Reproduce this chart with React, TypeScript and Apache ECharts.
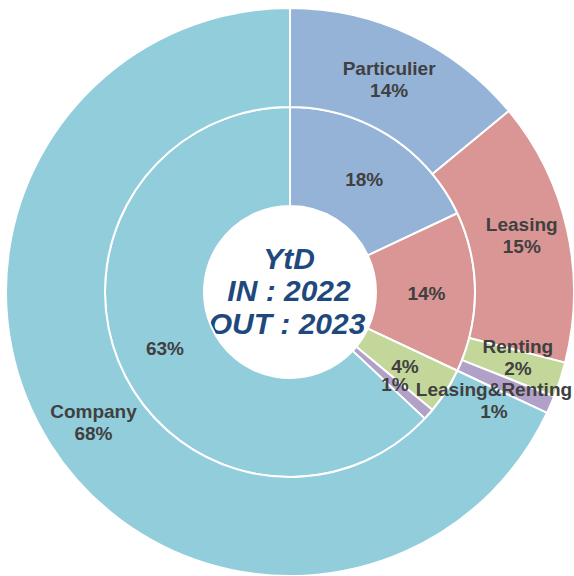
import React, { useEffect, useRef } from "react";
import * as echarts from "echarts";

const categories = ["Particulier", "Leasing", "Renting", "Leasing&Renting", "Company"];
const outValues2023 = [14, 15, 2, 1, 68];
const inValues2022 = [18, 14, 4, 1, 63];
const colors = ["#95B3D7", "#DA9694", "#C4D79B", "#B1A0C7", "#92CDDC"];
const centerLines = ["YtD", "IN : 2022", "OUT : 2023"];

export default function App() {
  const ref = useRef<HTMLDivElement>(null);
  useEffect(() => {
    if (!ref.current) return;
    const chart = echarts.init(ref.current, null, { renderer: "svg" });
    const labelFont = {
      fontFamily: "Liberation Sans, Arial, sans-serif",
      fontWeight: "bold" as const,
      fontSize: 19,
      color: "#404040",
      lineHeight: 22,
    };
    const outerOffsets: Record<number, number[]> = { 0: [-2, 2], 1: [0, -5], 2: [2, -8], 3: [-14, 14], 4: [4, 3] };
    const innerOffsets: Record<number, number[]> = { 0: [0, 4], 1: [-2, 1], 2: [-2, 0], 3: [1, 1], 4: [2, 1] };
    chart.setOption({
      animation: false,
      color: colors,
      series: [
        {
          name: "IN 2022",
          type: "pie",
          center: [290, 292],
          radius: [86, 185],
          startAngle: 90,
          clockwise: true,
          avoidLabelOverlap: false,
          labelLayout: { hideOverlap: false },
          itemStyle: { borderColor: "#fff", borderWidth: 2 },
          label: { show: true, position: "inside", formatter: "{c}%", ...labelFont },
          labelLine: { show: false },
          emphasis: { disabled: true },
          data: categories.map((n, i) => ({
            name: n,
            value: inValues2022[i],
            label: { offset: innerOffsets[i] },
          })),
        },
        {
          name: "OUT 2023",
          type: "pie",
          center: [290, 292],
          radius: [185, 284],
          startAngle: 90,
          clockwise: true,
          avoidLabelOverlap: false,
          labelLayout: { hideOverlap: false },
          itemStyle: { borderColor: "#fff", borderWidth: 2 },
          label: { show: true, position: "inside", formatter: "{b}\n{c}%", ...labelFont },
          labelLine: { show: false },
          emphasis: { disabled: true },
          data: categories.map((n, i) => ({
            name: n,
            value: outValues2023[i],
            label: { offset: outerOffsets[i] },
          })),
        },
      ],
      graphic: centerLines.map((t, i) => ({
        type: "text",
        x: i === 2 ? 287 : 289,
        y: 258 + i * 32.5,
        style: {
          text: t,
          x: 0,
          y: 0,
          textAlign: "center",
          textVerticalAlign: "middle",
          fontFamily: "Liberation Sans, Arial, sans-serif",
          fontWeight: "bold",
          fontStyle: "italic",
          fontSize: 30,
          fill: "#1F497D",
        },
      })),
    });
    return () => chart.dispose();
  }, []);
  return (
    <div
      ref={ref}
      style={{ position: "fixed", left: 0, top: 0, width: 574, height: 576, background: "#fff" }}
    />
  );
}
